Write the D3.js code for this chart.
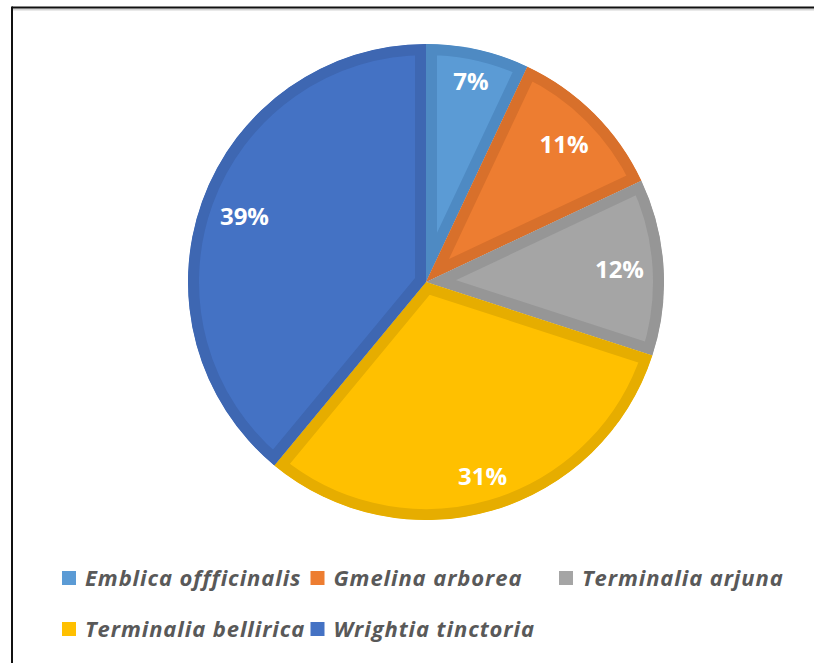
<!DOCTYPE html>
<html>
<head>
<meta charset="utf-8">
<script src="https://cdn.jsdelivr.net/npm/d3@7"></script>
<style>
  html, body { margin: 0; padding: 0; background: #fff; overflow: hidden; }
</style>
</head>
<body>
<svg id="chart" width="814" height="663"></svg>
<script>
const categories = ["Emblica offficinalis", "Gmelina arborea", "Terminalia arjuna", "Terminalia bellirica", "Wrightia tinctoria"];
const values = [7, 11, 12, 31, 39];
const valueLabels = ["7%", "11%", "12%", "31%", "39%"];
const fillColors = ["#5B9BD5", "#ED7D31", "#A5A5A5", "#FFC000", "#4472C4"];
const borderColors = ["#4E8AC3", "#D8702B", "#969696", "#E6AD00", "#3E67B2"];

const svg = d3.select("#chart");
const W = 814, H = 663;

// frame
svg.append("rect").attr("x", 0).attr("y", 0).attr("width", W).attr("height", H).attr("fill", "#fff");
svg.append("line").attr("x1", 13).attr("x2", W).attr("y1", 9.5).attr("y2", 9.5)
  .attr("stroke", "#d4d4d4").attr("stroke-width", 2);
svg.append("line").attr("x1", 12).attr("x2", W).attr("y1", 7.5).attr("y2", 7.5)
  .attr("stroke", "#111").attr("stroke-width", 2);
svg.append("line").attr("x1", 12).attr("x2", 12).attr("y1", 6.5).attr("y2", H)
  .attr("stroke", "#111").attr("stroke-width", 2);

const cx = 426, cy = 282, R = 238, border = 11;

const pie = d3.pie().sort(null).value(d => d.value).startAngle(0).endAngle(2 * Math.PI);
const data = pie(categories.map((c, i) => ({ name: c, value: values[i], label: valueLabels[i], fill: fillColors[i], stroke: borderColors[i] })));
const arc = d3.arc().innerRadius(0).outerRadius(R);

const defs = svg.append("defs");
data.forEach((d, i) => {
  defs.append("clipPath").attr("id", "clip" + i)
    .append("path").attr("d", arc(d)).attr("transform", `translate(${cx},${cy})`);
  const sg = svg.append("g").attr("clip-path", `url(#clip${i})`);
  sg.append("path")
    .attr("d", arc(d))
    .attr("transform", `translate(${cx},${cy})`)
    .attr("fill", d.data.fill)
    .attr("stroke", d.data.stroke)
    .attr("stroke-width", border * 2)
    .attr("stroke-linejoin", "miter");
});

// labels placed "inside end": farthest corner of the label box at R - 19
const labelG = svg.append("g").attr("transform", `translate(${cx},${cy})`);
const labelH = 17.5, D = R - 19;
labelG.selectAll("text").data(data).join("text")
  .attr("text-anchor", "middle")
  .attr("dy", "0.36em")
  .attr("fill", "#fff")
  .attr("font-family", "'Open Sans', sans-serif")
  .attr("font-weight", "bold")
  .attr("font-size", 24)
  .text(d => d.data.label)
  .attr("transform", function(d) {
    const w = this.getComputedTextLength();
    const a = (d.startAngle + d.endAngle) / 2;
    const s = Math.abs(Math.sin(a)), c = Math.abs(Math.cos(a));
    const b = w * s + labelH * c;
    const k = (w * w + labelH * labelH) / 4 - D * D;
    const r = (-b + Math.sqrt(b * b - 4 * k)) / 2;
    return `translate(${r * Math.sin(a)},${-r * Math.cos(a)})`;
  });

// legend: 3-column grid
const legendX0 = 62, colW = 248.5, rowY0 = 578, rowH = 51;
const leg = svg.append("g");
const items = leg.selectAll("g").data(categories).join("g")
  .attr("transform", (d, i) => `translate(${legendX0 + (i % 3) * colW},${rowY0 + Math.floor(i / 3) * rowH})`);
items.append("rect").attr("x", 0).attr("y", -7).attr("width", 14).attr("height", 14)
  .attr("fill", (d, i) => fillColors[i]);
items.append("text").attr("x", 23).attr("y", 0).attr("dy", "0.35em")
  .attr("font-family", "'Open Sans', sans-serif")
  .attr("font-style", "italic").attr("font-weight", "bold")
  .attr("font-size", 22).attr("letter-spacing", 0.9).attr("fill", "#595959")
  .text(d => d);
</script>
</body>
</html>
